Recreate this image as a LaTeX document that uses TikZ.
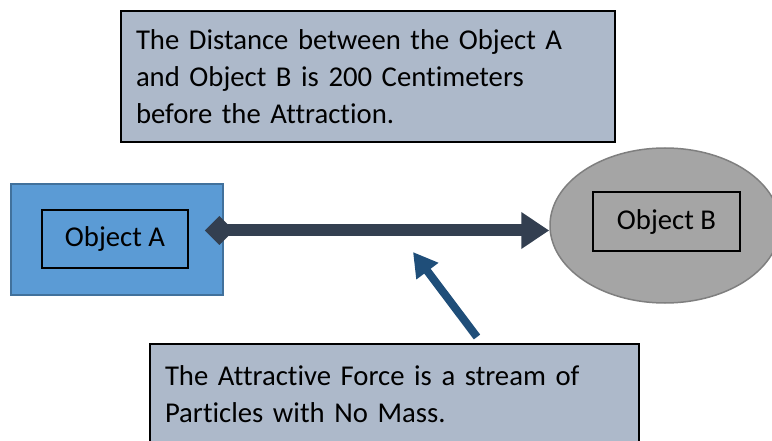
\documentclass[tikz,border=0pt]{standalone}
\usepackage{fontspec}
\setmainfont{Carlito}[Ligatures=NoCommon]
\usepackage{tikz}
\usepackage{xcolor}
\usetikzlibrary{arrows.meta,shapes.geometric}
\definecolor{notegray}{HTML}{ADB9CA}
\definecolor{objblue}{HTML}{5B9BD5}
\definecolor{objblueline}{HTML}{41719C}
\definecolor{objgray}{HTML}{A5A5A5}
\definecolor{objgrayline}{HTML}{7F7F7F}
\definecolor{beamdark}{HTML}{333F50}
\definecolor{pointerblue}{HTML}{1F4E79}

\begin{document}
\begin{tikzpicture}[x=1pt,y=-1pt,
  notebox/.style={draw=black,line width=2pt,fill=notegray,anchor=north west,
    align=left,inner xsep=15pt,inner ysep=0pt,
    font=\fontsize{28.7}{37}\selectfont},
  labelbox/.style={draw=black,line width=2pt,inner sep=0pt,
    font=\fontsize{28.7}{34}\selectfont}]
\useasboundingbox (0,0) rectangle (772,441);
\clip (0,0) rectangle (772,441);
% notes
\node[notebox,text width=464pt,minimum height=131pt] (dist) at (120,10)
  {The Distance between the Object A\\and Object B is 200 Centimeters\\before the Attraction.};
\node[notebox,text width=459pt,minimum height=101pt] (force) at (149,343)
  {The Attractive Force is a stream of\\Particles with No Mass.};
% objects
\node[draw=objblueline,line width=1.5pt,fill=objblue,minimum width=212pt,
  minimum height=111pt] (objA) at (117,239.5) {};
\node[labelbox,minimum width=146pt,minimum height=58pt] (labA) at (115,239) {Object A};
\node[ellipse,draw=objgrayline,line width=1.5pt,fill=objgray,minimum width=230pt,
  minimum height=155pt,inner sep=0pt] (objB) at (665,225.5) {};
\node[labelbox,minimum width=147pt,minimum height=59pt] (labB) at (666.5,221.5) {Object B};
% connectors
\coordinate (tail) at ([xshift=-19pt]objA.east |- 0,230.5);
\coordinate (head) at (objB.west |- 0,230.5);
\draw[beamdark,line width=12pt,
  {Diamond[length=29pt,width=29pt]}-{Triangle[length=28pt,width=35pt]}] (tail) -- (head);
\coordinate (ftail) at (477,337);
\coordinate (ftip) at (413,252);
\draw[pointerblue,line width=8pt,-{Triangle[length=24pt,width=26pt]}] (ftail) -- (ftip);
\end{tikzpicture}
\end{document}
